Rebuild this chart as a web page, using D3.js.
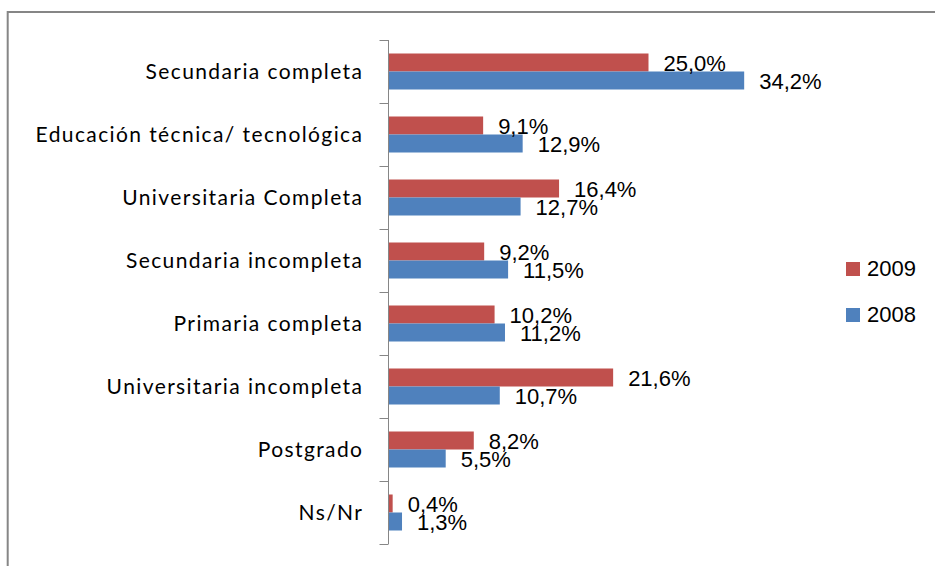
<!DOCTYPE html>
<html>
<head>
<meta charset="utf-8">
<script src="https://cdn.jsdelivr.net/npm/d3@7"></script>
<style>
  html, body { margin: 0; padding: 0; background: #fff; }
  svg { display: block; }
</style>
</head>
<body>
<div id="chart"></div>
<script>
const categories = [
  "Secundaria completa",
  "Educación técnica/ tecnológica",
  "Universitaria Completa",
  "Secundaria incompleta",
  "Primaria completa",
  "Universitaria incompleta",
  "Postgrado",
  "Ns/Nr"
];
const seriesNames = ["2009", "2008"];
const values2009 = [25.0, 9.1, 16.4, 9.2, 10.2, 21.6, 8.2, 0.4];
const values2008 = [34.2, 12.9, 12.7, 11.5, 11.2, 10.7, 5.5, 1.3];
const seriesColors = ["#C0504D", "#4F81BD"];

const W = 935, H = 566;
const svg = d3.select("#chart").append("svg").attr("width", W).attr("height", H);

// outer frame
svg.append("path")
  .attr("d", "M7.7," + (H + 5) + " V12 H" + (W + 5))
  .attr("fill", "none").attr("stroke", "#868686").attr("stroke-width", 2);

const y = d3.scaleBand().domain(categories).range([40, 544]).padding(0);
const ySub = d3.scaleBand().domain(seriesNames).range([0, y.step()])
  .paddingInner(0).paddingOuter(0.75);
const x = d3.scaleLinear().domain([0, 40]).range([388.5, 388.5 + 416]);

const data = categories.map((c, i) => ({ cat: c, vals: [values2009[i], values2008[i]] }));

const groups = svg.append("g").selectAll("g").data(data).join("g")
  .attr("transform", d => `translate(0,${y(d.cat)})`);

groups.selectAll("rect").data(d => d.vals.map((v, j) => ({ v, s: seriesNames[j], j })))
  .join("rect")
  .attr("x", x(0))
  .attr("y", d => ySub(d.s))
  .attr("width", d => x(d.v) - x(0))
  .attr("height", ySub.bandwidth())
  .attr("fill", d => seriesColors[d.j]);

groups.selectAll("text.val").data(d => d.vals.map((v, j) => ({ v, s: seriesNames[j], j })))
  .join("text").attr("class", "val")
  .attr("x", d => x(d.v) + 15)
  .attr("y", d => ySub(d.s) + ySub.bandwidth() - 0.8)
  .attr("font-family", "'Liberation Sans', Arial, sans-serif")
  .attr("font-size", 22)
  .attr("fill", "#000")
  .text(d => d.v.toFixed(1).replace(".", ",") + "%");

// axis
const axG = svg.append("g").attr("transform", `translate(${x(0)},0)`);
axG.append("line").attr("x1", 0).attr("x2", 0).attr("y1", 40).attr("y2", 544)
  .attr("stroke", "#868686").attr("stroke-width", 1);
const tickYs = categories.map(c => y(c)).concat([y.range()[1]]);
axG.selectAll("line.tick").data(tickYs).join("line").attr("class", "tick")
  .attr("x1", -9).attr("x2", 0)
  .attr("y1", d => Math.round(d) + 0.5).attr("y2", d => Math.round(d) + 0.5)
  .attr("stroke", "#868686").attr("stroke-width", 1);

svg.append("g").selectAll("text").data(categories).join("text")
  .attr("x", 363.4)
  .attr("y", d => y(d) + y.bandwidth() / 2 + 7.5)
  .attr("text-anchor", "end")
  .attr("font-family", "Lato, sans-serif")
  .attr("font-size", 21)
  .attr("letter-spacing", 1.4)
  .attr("fill", "#000")
  .text(d => d);

// legend
const lg = svg.append("g");
const legendY = d3.scalePoint().domain(seriesNames).range([262, 308]);
lg.selectAll("rect").data(seriesNames).join("rect")
  .attr("x", 846).attr("y", d => legendY(d)).attr("width", 14).attr("height", 14)
  .attr("fill", (d, i) => seriesColors[i]);
lg.selectAll("text").data(seriesNames).join("text")
  .attr("x", 867).attr("y", d => legendY(d) + 14)
  .attr("font-family", "'Liberation Sans', Arial, sans-serif")
  .attr("font-size", 22)
  .attr("fill", "#000")
  .text(d => d);
</script>
</body>
</html>
